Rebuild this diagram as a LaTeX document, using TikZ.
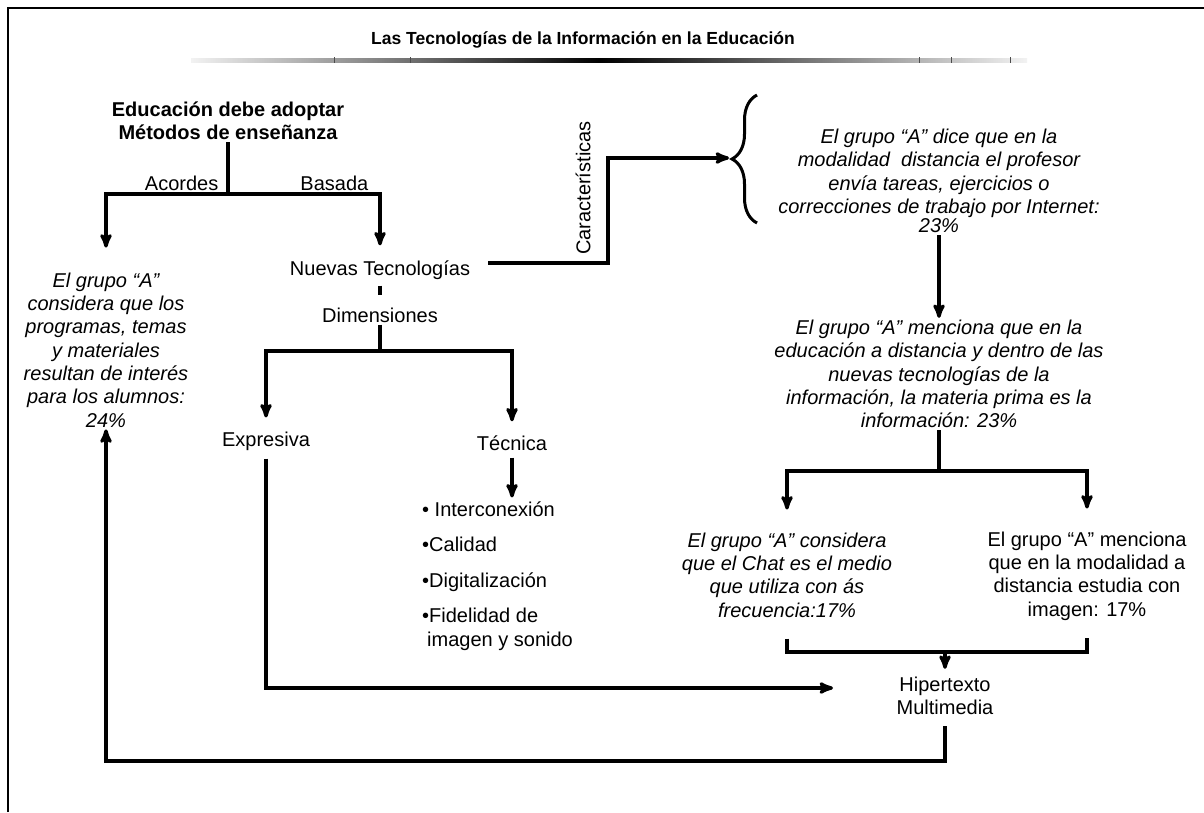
\documentclass[tikz,border=0pt]{standalone}
\usepackage{fontspec}
\setmainfont{Liberation Sans}
\usetikzlibrary{arrows, positioning, decorations.pathreplacing}

\tikzset{
  texto/.style={font=\fontsize{20}{23.3}\selectfont, align=center, inner sep=2pt},
  cursiva/.style={texto, font=\fontsize{20}{23.3}\selectfont\itshape},
  negrita/.style={texto, font=\fontsize{20}{23.3}\selectfont\bfseries},
  titulo/.style={font=\fontsize{17.5}{20}\selectfont\bfseries, inner sep=2pt},
  linea/.style={line width=3.3pt},
  flecha/.style={linea, ->},
}

\begin{document}
\begin{tikzpicture}[>=stealth', x=1pt, y=-1pt]
\useasboundingbox (0,0) rectangle (1204,812);
% marco y titulo
\draw[line width=2pt] (8,812) -- (8,8) -- (1204,8);
\node[titulo] (tit) at (583,40) {Las Tecnologías de la Información en la Educación};
\shade[left color=gray!10, right color=black] (191,58) rectangle (600,62);
\shade[left color=black, right color=gray!10] (600,58) rectangle (1027,62);
\foreach \x in {334,410,919,951,1010}
  \draw[line width=0.8pt, gray!60!black] (\x,57) -- (\x,63);

% arbol de la izquierda
\node[negrita] (educ) at (228,121) {Educación debe adoptar\\Métodos de enseñanza};
\node[cursiva] (grupo24) at (106,350) {El grupo “A”\\considera que los\\programas, temas\\y materiales\\resultan de interés\\para los alumnos:\\24\%};
\node[texto] (nuevas) at (380,270) {Nuevas Tecnologías};
\node[texto, below=24pt of nuevas] (dimen) {Dimensiones};
\node[texto] (expre) at (266,441) {Expresiva};
\node[texto] (tecni) at (512,443) {Técnica};
\node[texto, align=left, anchor=west] (lista) at (420,576)
  {\textbullet\ Interconexión\\[12.2pt]\textbullet Calidad\\[12.2pt]\textbullet Digitalización\\[12.2pt]\textbullet Fidelidad de\\\hspace{5pt}imagen y sonido};
\coordinate (bif1) at (228,194);
\coordinate (bif2) at (380,351);
\draw[linea] (educ) -- (bif1);
\draw[flecha, shorten >=23pt] (bif1) -| node[texto, above, pos=0.19] {Acordes} (grupo24);
\draw[flecha, shorten >=13pt] (bif1) -| node[texto, above, pos=0.35] {Basada} (nuevas);
\draw[linea, shorten <=4pt, shorten >=11pt] (nuevas) -- (dimen);
\draw[linea] (dimen) -- (bif2);
\draw[flecha, shorten >=12pt] (bif2) -| (expre);
\draw[flecha, shorten >=12pt] (bif2) -| (tecni);
\draw[flecha, shorten <=5pt, shorten >=2pt] (tecni) -- (tecni |- lista.north);

% caracteristicas
\node[texto, rotate=90] (caract) at (583,188) {Características};
\coordinate (codo) at (608,263);
\coordinate (llave) at (729,158);
\draw[flecha, shorten <=16pt] (nuevas.east |- codo) -- (codo) |- (llave);
\draw[linea, line width=3pt, decorate, decoration={brace, amplitude=25pt}] (757,223) -- (757,95);

% lado derecho
\node[cursiva] (grupo23a) at (939,181) {El grupo “A” dice que en la\\modalidad\ \ distancia el profesor\\envía tareas, ejercicios o\\correcciones de trabajo por Internet:\\[-4pt]23\%};
\node[cursiva] (grupo23b) at (939,374) {El grupo “A” menciona que en la\\educación a distancia y dentro de las\\nuevas tecnologías de la\\información, la materia prima es la\\información: 23\%};
\node[cursiva] (chat) at (787,575) {El grupo “A” considera\\que el Chat es el medio\\que utiliza con ás\\frecuencia:17\%};
\node[texto] (imagen) at (1087,576) {El grupo “A” menciona\\que en la modalidad a\\distancia estudia con\\imagen: 17\%};
\node[texto, inner sep=8pt] (hiper) at (945,696) {Hipertexto\\Multimedia};
\coordinate (bif3) at (939,471);
\coordinate (jun) at (945,652);
\coordinate (hipin) at (833,688);
\draw[flecha] (grupo23a) -- (grupo23b);
\draw[linea] (grupo23b) -- (bif3);
\draw[flecha, shorten >=21pt] (bif3) -| (chat);
\draw[flecha, shorten >=21pt] (bif3) -| (imagen);
\draw[linea, shorten <=19pt, shorten >=16pt] (chat) |- (jun) -| (imagen);
\draw[flecha] (jun) -- (hiper);
\draw[flecha, shorten <=6pt] (expre) |- (hipin);
\draw[flecha, shorten <=3pt] (hiper) |- (106,761) -- (grupo24);
\end{tikzpicture}
\end{document}
